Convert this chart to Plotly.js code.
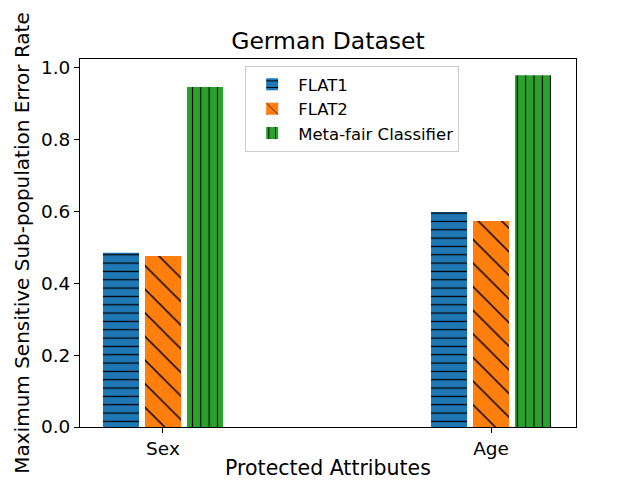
<!DOCTYPE html>
<html>
<head>
<meta charset="utf-8">
<script src="https://cdn.plot.ly/plotly-3.0.1.min.js"></script>
<style>html,body{margin:0;padding:0;background:#fff;}</style>
</head>
<body>
<div id="chart" style="width:640px;height:480px;"></div>
<script>
const categories = ["Sex", "Age"];
const catPositions = [0, 1];
const flat1 = [0.485, 0.599];
const flat2 = [0.476, 0.574];
const metaFair = [0.947, 0.980];
const yTicks = [0, 0.2, 0.4, 0.6, 0.8, 1.0];

const font = "DejaVu Sans, Liberation Sans, sans-serif";
const barW = 0.11;

function mk(name, vals, color, shape, size, solidity, offset) {
  return {
    type: "bar",
    name: name,
    x: catPositions,
    y: vals,
    width: barW,
    offset: offset,
    legendgroup: name,
    marker: {
      color: color,
      line: {width: 0},
      pattern: {shape: shape, fgcolor: "#000000", bgcolor: color, size: size, solidity: solidity, fillmode: "replace"}
    },
    hoverinfo: "skip"
  };
}

const data = [
  mk("FLAT1", flat1, "#1f77b4", "-", 8.33, 0.15, -0.183),
  mk("FLAT2", flat2, "#ff7f0e", "\\", 16.7, 0.09, -0.055),
  mk("Meta-fair Classifier", metaFair, "#2ca02c", "|", 8.33, 0.13, 0.073)
];

const layout = {
  width: 640, height: 480,
  margin: {l: 80, r: 64, t: 59, b: 53, pad: 0},
  paper_bgcolor: "#ffffff", plot_bgcolor: "#ffffff",
  barmode: "overlay",
  font: {family: font, color: "#000000"},
  title: {text: "German Dataset", font: {size: 23.5, family: font, color: "#000"}, x: 0.5, xref: "paper", xanchor: "center", y: 0.915, yref: "container", yanchor: "middle"},
  xaxis: {
    range: [-0.253, 1.259],
    tickvals: catPositions, ticktext: categories,
    ticks: "outside", ticklen: 5, tickwidth: 1, tickcolor: "#000",
    showgrid: false, zeroline: false,
    showline: true, linecolor: "#000", linewidth: 1, mirror: true,
    tickfont: {size: 18.5, family: font},
    title: {text: "Protected Attributes", font: {size: 20.5, family: font}, standoff: 6}
  },
  yaxis: {
    range: [0, 1.025],
    tickvals: yTicks, tickformat: ".1f",
    ticks: "outside", ticklen: 5, tickwidth: 1, tickcolor: "#000",
    showgrid: false, zeroline: false,
    showline: true, linecolor: "#000", linewidth: 1, mirror: true,
    tickfont: {size: 18.5, family: font},
    title: {text: "Maximum Sensitive Sub-population Error Rate", font: {size: 20, family: font}, standoff: 5}
  },
  legend: {
    x: 0.333, y: 0.981, xanchor: "left", yanchor: "top",
    bgcolor: "rgba(255,255,255,0.8)", bordercolor: "#cccccc", borderwidth: 1,
    font: {size: 16.5, family: font},
    itemwidth: 42,
    tracegroupgap: 5, traceorder: "normal"
  },
  showlegend: true
};

Plotly.newPlot("chart", data, layout, {displayModeBar: false, staticPlot: true});
</script>
</body>
</html>
